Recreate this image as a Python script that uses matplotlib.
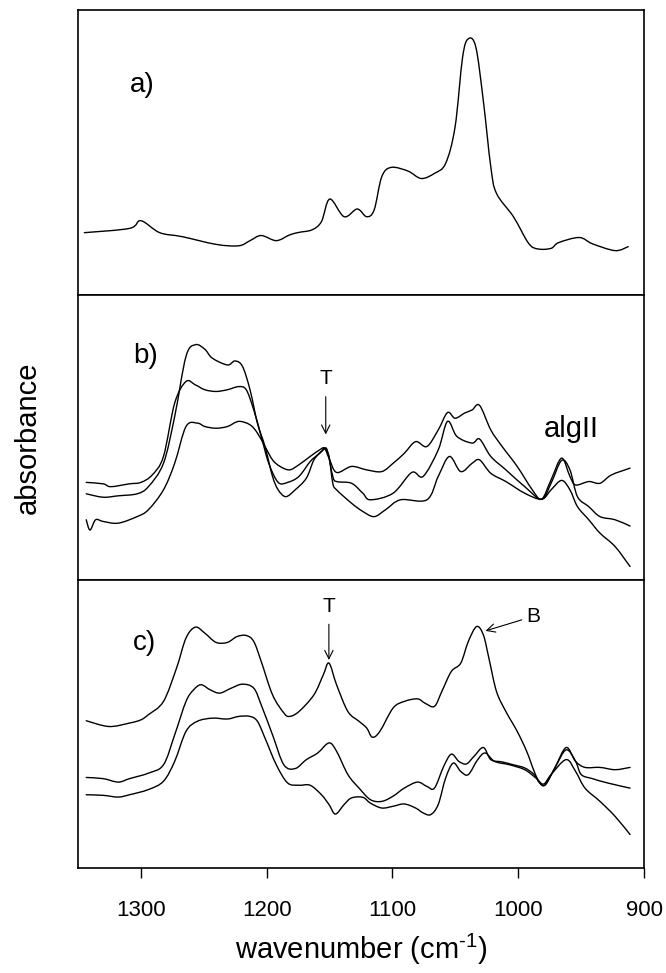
import matplotlib
matplotlib.use("Agg")
import matplotlib.pyplot as plt
from matplotlib.path import Path
from matplotlib.patches import PathPatch

plt.rcParams['font.family'] = ['Liberation Sans', 'DejaVu Sans']
plt.rcParams['mathtext.fontset'] = 'custom'
plt.rcParams['mathtext.rm'] = 'Liberation Sans'

# ---------------- data (wavenumber, absorbance in arbitrary units) ----------------
a_wn = [1344.9, 1309.0, 1300.0, 1285.0, 1267.1, 1240.2, 1222.2, 1213.2, 1204.3, 1192.3,
        1181.8, 1174.3, 1163.9, 1156.4, 1149.8, 1138.4, 1128.0, 1120.5, 1114.5, 1108.5,
        1101.0, 1087.6, 1077.1, 1066.6, 1057.7, 1050.2, 1044.2, 1039.7, 1033.7, 1027.8,
        1021.8, 1017.3, 1003.8, 991.8, 984.4, 973.9, 967.9, 951.5, 941.0, 923.0, 912.6]
a_abs = [0.218, 0.233, 0.260, 0.218, 0.204, 0.177, 0.172, 0.190, 0.208, 0.190,
         0.210, 0.219, 0.228, 0.257, 0.336, 0.274, 0.301, 0.274, 0.298, 0.414,
         0.447, 0.434, 0.408, 0.426, 0.461, 0.589, 0.834, 0.898, 0.869, 0.683,
         0.449, 0.356, 0.274, 0.181, 0.161, 0.163, 0.183, 0.201, 0.179, 0.155, 0.169]

b1_wn = [1343.4, 1329.9, 1318.0, 1303.0, 1294.0, 1282.0, 1273.1, 1264.1, 1256.6, 1249.1,
         1243.2, 1231.2, 1225.2, 1219.2, 1213.2, 1207.3, 1201.3, 1195.3, 1190.8, 1184.8,
         1177.3, 1168.4, 1162.4, 1156.4, 1154.0, 1150.4, 1147.4, 1144.4, 1132.5, 1123.5,
         1114.5, 1105.5, 1093.6, 1072.6, 1063.6, 1054.7, 1045.7, 1036.7, 1030.7, 1021.8,
         1009.8, 994.8, 981.4, 973.9, 965.5, 958.9, 952.9, 943.9, 935.0, 923.0, 911.1]
b1_abs = [0.302, 0.290, 0.295, 0.302, 0.327, 0.409, 0.573, 0.784, 0.825, 0.809,
          0.778, 0.754, 0.768, 0.749, 0.667, 0.550, 0.468, 0.363, 0.316, 0.292,
          0.316, 0.357, 0.421, 0.450, 0.462, 0.433, 0.339, 0.316, 0.269, 0.240,
          0.222, 0.246, 0.281, 0.281, 0.363, 0.433, 0.380, 0.409, 0.421, 0.374,
          0.345, 0.304, 0.283, 0.316, 0.349, 0.316, 0.257, 0.211, 0.164, 0.117, 0.047]

b2_wn = [1343.4, 1329.9, 1323.9, 1309.0, 1300.0, 1291.0, 1282.0, 1273.1, 1264.1, 1256.6,
         1249.1, 1240.2, 1231.2, 1222.2, 1216.2, 1210.2, 1204.3, 1198.3, 1190.8, 1183.3,
         1174.3, 1165.4, 1159.4, 1154.9, 1151.9, 1147.4, 1144.4, 1132.5, 1123.5, 1117.5,
         1099.5, 1084.6, 1075.6, 1063.6, 1056.2, 1048.7, 1036.7, 1030.7, 1021.8, 1009.8,
         994.8, 981.4, 973.9, 965.5, 958.9, 952.9, 943.9, 935.0, 923.0, 911.1]
b2_abs = [0.342, 0.337, 0.327, 0.337, 0.342, 0.368, 0.433, 0.620, 0.696, 0.684,
          0.667, 0.661, 0.667, 0.678, 0.667, 0.596, 0.503, 0.409, 0.342, 0.342,
          0.363, 0.415, 0.439, 0.456, 0.456, 0.363, 0.345, 0.339, 0.304, 0.281,
          0.304, 0.377, 0.363, 0.456, 0.556, 0.503, 0.480, 0.494, 0.433, 0.386,
          0.327, 0.283, 0.339, 0.419, 0.386, 0.292, 0.257, 0.222, 0.211, 0.189]

b3_wn = [1343.4, 1340.4, 1335.9, 1329.9, 1318.0, 1303.0, 1294.0, 1282.0, 1273.1, 1264.1,
         1255.1, 1249.1, 1240.2, 1231.2, 1222.2, 1213.2, 1207.3, 1201.3, 1195.3, 1189.3,
         1181.8, 1174.3, 1165.4, 1157.9, 1154.0, 1150.4, 1144.4, 1132.5, 1120.5, 1108.5,
         1099.5, 1090.6, 1081.6, 1072.6, 1063.6, 1056.2, 1050.2, 1042.7, 1036.7, 1030.7,
         1021.8, 1012.8, 1000.8, 988.8, 981.4, 973.9, 965.5, 958.9, 954.4, 943.9,
         935.0, 926.0, 911.1]
b3_abs = [0.211, 0.175, 0.211, 0.205, 0.199, 0.222, 0.246, 0.316, 0.409, 0.538,
          0.550, 0.538, 0.532, 0.538, 0.556, 0.544, 0.515, 0.468, 0.421, 0.398,
          0.386, 0.404, 0.433, 0.456, 0.462, 0.427, 0.377, 0.398, 0.386, 0.380,
          0.409, 0.444, 0.485, 0.468, 0.526, 0.587, 0.567, 0.585, 0.596, 0.612,
          0.526, 0.468, 0.398, 0.316, 0.283, 0.351, 0.427, 0.363, 0.333, 0.345,
          0.339, 0.368, 0.392]

c1_wn = [1343.4, 1325.4, 1309.0, 1300.0, 1294.0, 1282.0, 1271.6, 1264.1, 1256.6, 1249.1,
         1240.2, 1231.2, 1223.7, 1216.2, 1210.2, 1204.3, 1195.3, 1186.3, 1181.8, 1174.3,
         1162.4, 1154.9, 1150.4, 1144.4, 1135.4, 1126.5, 1120.5, 1116.0, 1110.0, 1099.5,
         1090.6, 1080.1, 1074.1, 1066.6, 1060.7, 1053.2, 1045.7, 1039.7, 1033.1, 1027.7,
         1023.3, 1017.3, 1009.8, 1000.8, 993.3, 987.3, 982.9, 978.4, 970.9, 961.9,
         954.4, 946.9, 935.0, 923.0, 911.1]
c1_abs = [0.511, 0.491, 0.503, 0.514, 0.532, 0.578, 0.694, 0.798, 0.836, 0.815,
          0.783, 0.783, 0.803, 0.807, 0.786, 0.717, 0.601, 0.538, 0.526, 0.543,
          0.601, 0.671, 0.711, 0.636, 0.543, 0.509, 0.486, 0.454, 0.474, 0.555,
          0.578, 0.587, 0.572, 0.561, 0.613, 0.682, 0.711, 0.786, 0.838, 0.809,
          0.728, 0.613, 0.543, 0.474, 0.405, 0.335, 0.295, 0.289, 0.347, 0.418,
          0.370, 0.349, 0.349, 0.341, 0.349]

c2_wn = [1343.4, 1329.9, 1318.0, 1309.0, 1294.0, 1282.0, 1273.1, 1264.1, 1258.1, 1252.1,
         1244.7, 1237.2, 1228.2, 1219.2, 1210.2, 1204.3, 1195.3, 1186.3, 1177.3, 1168.4,
         1159.4, 1150.4, 1144.4, 1135.4, 1126.5, 1117.5, 1108.5, 1099.5, 1090.6, 1080.1,
         1072.6, 1066.6, 1059.2, 1053.2, 1047.2, 1041.2, 1035.2, 1027.7, 1021.8, 1012.8,
         1003.8, 994.8, 987.3, 982.9, 978.4, 970.9, 961.9, 954.4, 949.9, 941.0,
         929.0, 911.1]
c2_abs = [0.314, 0.310, 0.298, 0.310, 0.329, 0.358, 0.462, 0.578, 0.618, 0.636,
          0.618, 0.607, 0.624, 0.638, 0.624, 0.566, 0.462, 0.358, 0.345, 0.376,
          0.399, 0.434, 0.405, 0.324, 0.277, 0.237, 0.231, 0.249, 0.277, 0.298,
          0.283, 0.277, 0.353, 0.395, 0.370, 0.361, 0.387, 0.418, 0.376, 0.368,
          0.358, 0.347, 0.324, 0.295, 0.289, 0.347, 0.410, 0.370, 0.324, 0.310,
          0.295, 0.277]

c3_wn = [1343.4, 1329.9, 1318.0, 1309.0, 1294.0, 1282.0, 1273.1, 1264.1, 1255.1, 1243.2,
         1231.2, 1222.2, 1213.2, 1207.3, 1201.3, 1192.3, 1183.3, 1174.3, 1165.4, 1156.4,
         1150.4, 1145.3, 1138.4, 1132.5, 1123.5, 1117.5, 1108.5, 1099.5, 1090.6, 1081.6,
         1075.6, 1069.6, 1063.6, 1057.7, 1051.7, 1045.7, 1039.7, 1032.2, 1026.2, 1018.8,
         1006.8, 994.8, 985.9, 979.9, 973.9, 961.9, 954.4, 946.9, 935.0, 923.0, 911.1]
c3_abs = [0.254, 0.252, 0.246, 0.254, 0.272, 0.301, 0.370, 0.474, 0.509, 0.520,
          0.517, 0.526, 0.526, 0.509, 0.451, 0.358, 0.295, 0.287, 0.287, 0.254,
          0.220, 0.187, 0.220, 0.243, 0.245, 0.225, 0.208, 0.214, 0.222, 0.208,
          0.191, 0.185, 0.220, 0.312, 0.364, 0.335, 0.324, 0.376, 0.399, 0.370,
          0.358, 0.341, 0.312, 0.291, 0.324, 0.376, 0.335, 0.277, 0.231, 0.179, 0.116]

x_ticks = [1300, 1200, 1100, 1000, 900]
tick_labels = ["1300", "1200", "1100", "1000", "900"]


def smooth_trace(ax, xs, ys, lw=1.0):
    """Draw a smooth line through the data points (Catmull-Rom as Bezier)."""
    n = len(xs)
    verts = [(xs[0], ys[0])]
    codes = [Path.MOVETO]
    for i in range(n - 1):
        x0, y0 = (xs[i - 1], ys[i - 1]) if i > 0 else (xs[i], ys[i])
        x1, y1 = xs[i], ys[i]
        x2, y2 = xs[i + 1], ys[i + 1]
        x3, y3 = (xs[i + 2], ys[i + 2]) if i + 2 < n else (x2, y2)
        c1 = (x1 + (x2 - x0) / 6.0, y1 + (y2 - y0) / 6.0)
        c2 = (x2 - (x3 - x1) / 6.0, y2 - (y3 - y1) / 6.0)
        verts += [c1, c2, (x2, y2)]
        codes += [Path.CURVE4] * 3
    ax.add_patch(PathPatch(Path(verts, codes), facecolor='none',
                           edgecolor='black', lw=lw, capstyle='round',
                           joinstyle='round'))


# ---------------- figure ----------------
fig = plt.figure(figsize=(6.66, 9.73), dpi=100)
left, right = 0.117, 0.967
bottoms = [0.697, 0.404, 0.108]
tops = [0.990, 0.697, 0.404]
axes = []
for b, t in zip(bottoms, tops):
    axes.append(fig.add_axes([left, b, right - left, t - b]))

smooth_trace(axes[0], a_wn, a_abs)
for wn, ab in [(b1_wn, b1_abs), (b2_wn, b2_abs), (b3_wn, b3_abs)]:
    smooth_trace(axes[1], wn, ab)
for wn, ab in [(c1_wn, c1_abs), (c2_wn, c2_abs), (c3_wn, c3_abs)]:
    smooth_trace(axes[2], wn, ab)

for i, ax in enumerate(axes):
    ax.set_xlim(1350, 900)
    ax.set_ylim(0, 1)
    ax.set_yticks([])
    for s in ax.spines.values():
        s.set_linewidth(1.2)
    if i < 2:
        ax.set_xticks([])
    else:
        ax.set_xticks(x_ticks)
        ax.set_xticklabels(tick_labels)
        ax.tick_params(axis='x', direction='out', length=7, width=1.0,
                       labelsize=16, pad=16)

label_fs = 20
axes[0].text(1309, 0.71, "a)", fontsize=label_fs, ha='left', va='baseline')
axes[1].text(1306, 0.76, "b)", fontsize=label_fs, ha='left', va='baseline')
axes[2].text(1306, 0.755, "c)", fontsize=label_fs, ha='left', va='baseline')

axes[1].text(958, 0.50, "algII", fontsize=21, ha='center', va='baseline')

axes[1].annotate("T", xy=(1153, 0.51), xytext=(1153, 0.672),
                 fontsize=15, ha='center', va='bottom',
                 arrowprops=dict(arrowstyle='->', color='black', lw=0.8,
                                 shrinkA=4, shrinkB=0))
axes[2].annotate("T", xy=(1150.5, 0.722), xytext=(1150.5, 0.875),
                 fontsize=15, ha='center', va='bottom',
                 arrowprops=dict(arrowstyle='->', color='black', lw=0.8,
                                 shrinkA=4, shrinkB=0))
axes[2].annotate("B", xy=(1026, 0.823), xytext=(994, 0.873),
                 fontsize=15, ha='left', va='center',
                 arrowprops=dict(arrowstyle='->', color='black', lw=0.8,
                                 shrinkA=1, shrinkB=0))

fig.text(0.042, 0.55, "absorbance", rotation=90, fontsize=21,
         ha='center', va='center')
axes[2].set_xlabel("wavenumber (cm$^{\\mathregular{\u2010}\\mathregular{1}}$)",
                   fontsize=21, labelpad=8)

fig.savefig("out.png", dpi=100)
